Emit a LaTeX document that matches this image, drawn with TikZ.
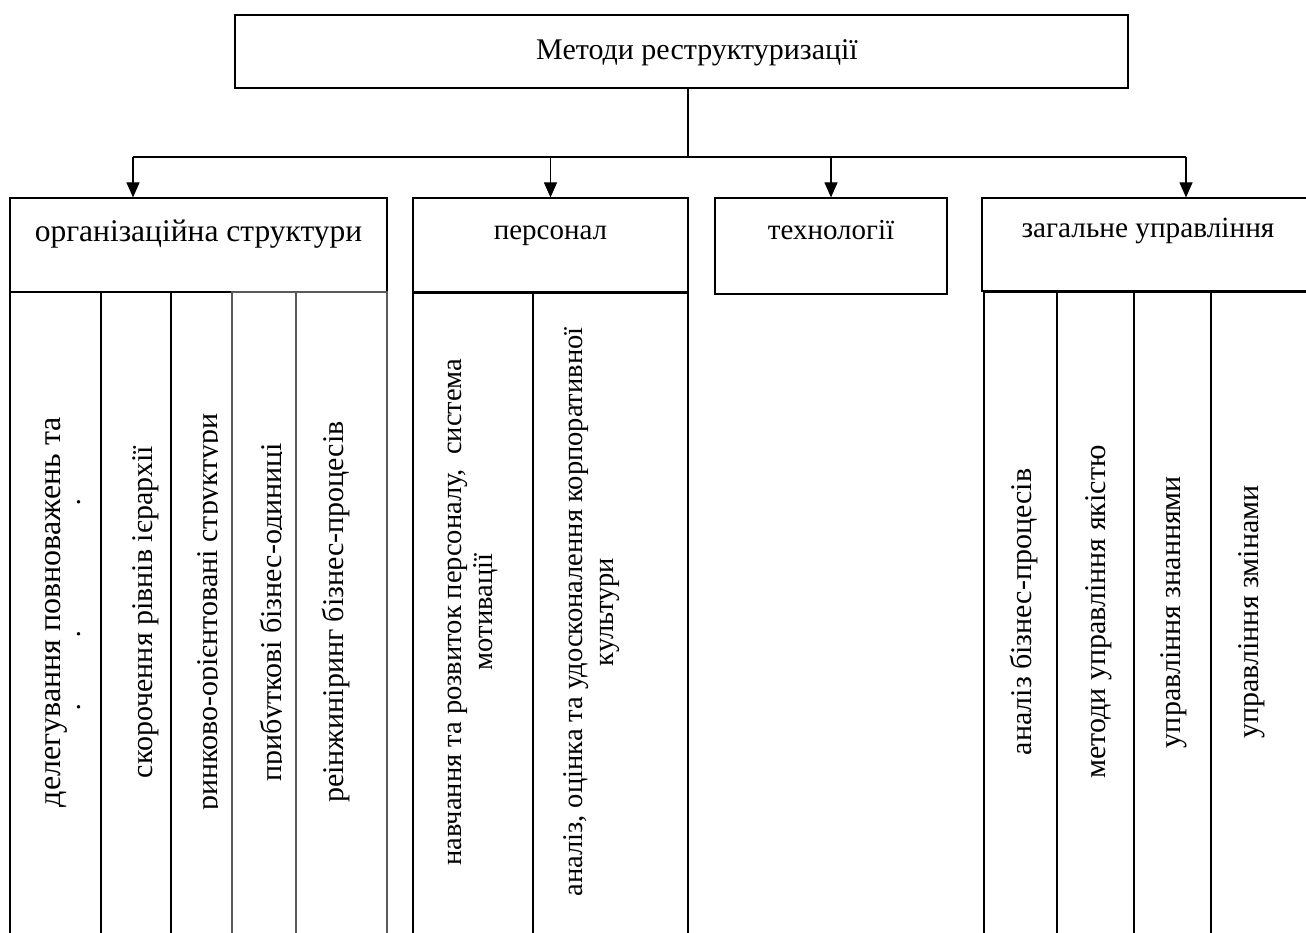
\documentclass[tikz,border=0pt]{standalone}
\usepackage{fontspec}
\setmainfont{Liberation Serif}
\usetikzlibrary{arrows.meta}

\begin{document}
\begin{tikzpicture}[
    x=1pt, y=-1pt,
    box/.style={
        draw=black,
        line width=1.2pt,
        inner sep=0pt,
    },
    head/.style={
        anchor=base,
        inner sep=0pt,
        font=\fontsize{29}{31}\selectfont,
    },
    coltext/.style={
        rotate=90,
        anchor=base,
        inner sep=0pt,
        font=\fontsize{30}{31}\selectfont,
    },
    perstext/.style={
        coltext,
        font=\fontsize{28.5}{30}\selectfont,
    },
    arr/.style={
        line width=1.2pt,
        -{Triangle[width=13pt,length=15pt]},
    },
]
\useasboundingbox (0,0) rectangle (1306,933);
\clip (0,0) rectangle (1306,933);

% Top level
\node[box, minimum width=893, minimum height=73] (title) at (681.5,51.5) {};
\node[head, font=\fontsize{30}{31}\selectfont] (titletext) at (697,60) {Методи реструктуризації};

% Header boxes
\node[box, minimum width=377, minimum height=94] (org)  at (198.5,245) {};
\node[box, minimum width=275, minimum height=95] (pers) at (550.5,245.5) {};
\node[box, minimum width=232, minimum height=96] (tech) at (831,246) {};
\node[box, minimum width=332, minimum height=93] (gen)  at (1148,244.5) {};

\node[head, font=\fontsize{31.5}{33}\selectfont] (orgtext) at (198.5,242) {організаційна структури};
\node[head] (perstitle) at (550.5,240) {персонал};
\node[head] (techtext) at (831,240) {технології};
\node[head, font=\fontsize{29.3}{31}\selectfont] (gentext) at (1148,238) {загальне управління};

% Connectors
\coordinate (bus)  at (688,157);
\coordinate (busL) at (133,157);
\coordinate (busR) at (1186,157);
\draw[line width=1.2pt] (title.south -| bus) -- (bus);
\draw[line width=1.2pt] (busL) -- (busR);
\draw[arr] (busL) -- (busL |- org.north);
\draw[arr] (pers.north |- bus) -- (pers.north);
\draw[arr] (tech.north |- bus) -- (tech.north);
\draw[arr] (busR) -- (busR |- gen.north);

% Column cells
\foreach \xa/\xb in {10/101, 101/171, 171/232, 413/533, 533/688, 984/1057, 1057/1134, 1134/1211, 1211/1314}
    \draw[line width=1.2pt] (\xa,292) rectangle (\xb,945);
\foreach \xa/\xb in {232/296, 296/387}
    \draw[line width=1.2pt, black!65] (\xa,292) rectangle (\xb,945);
\draw[line width=1.2pt] (171,292) -- (171,945);

% Organisation structure
\begin{scope}
    \clip (10,292) rectangle (81,933);
    \node[coltext, font=\fontsize{32}{33}\selectfont] (org1a) at (60,612) {делегування повноважень та};
    \node[coltext, font=\fontsize{32}{33}\selectfont] (org1b) at (98,612) {відповідальності};
\end{scope}
\node[coltext] (org2) at (152,612) {скорочення рівнів ієрархії};
\begin{scope}
    \clip (171,292) rectangle (217.3,933);
    \node[coltext] (org3) at (217,612) {ринково-орієнтовані структури};
\end{scope}
\begin{scope}
    \clip (232,292) rectangle (281.3,933);
    \node[coltext] (org4) at (281,612) {прибуткові бізнес-одиниці};
\end{scope}
\node[coltext] (org5) at (343,612) {реінжиніринг бізнес-процесів};

% Personnel
\node[perstext] (pers1a) at (461,612) {навчання та розвиток персоналу,\ \ система};
\node[perstext] (pers1b) at (492,612) {мотивації};
\node[perstext] (pers2a) at (582,612) {аналіз, оцінка та удосконалення корпоративної};
\node[perstext] (pers2b) at (613,612) {культури};

% General management
\node[coltext] (gen1) at (1031,612) {аналіз бізнес-процесів};
\node[coltext] (gen2) at (1105,612) {методи управління якістю};
\node[coltext] (gen3) at (1180,612) {управління знаннями};
\node[coltext] (gen4) at (1258,612) {управління змінами};

\end{tikzpicture}
\end{document}
